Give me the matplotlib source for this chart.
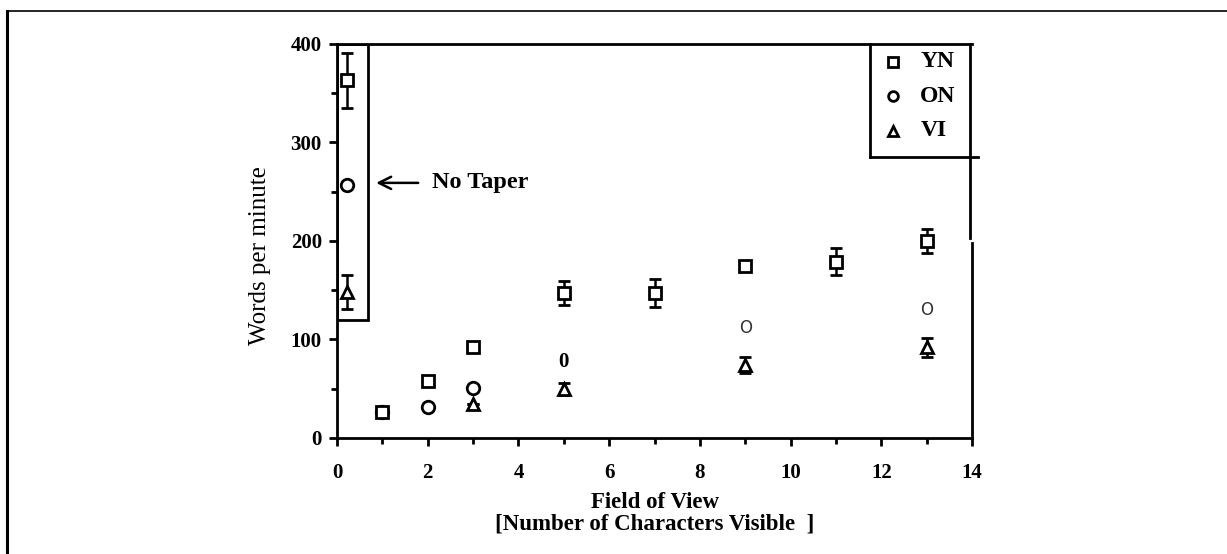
import numpy as np
import matplotlib.pyplot as plt
from matplotlib.patches import Rectangle
from matplotlib.lines import Line2D

# --- dane ---
YN_X = [0.22, 1, 2, 3, 5, 7, 9, 11, 13]
YN_Y = [363, 26, 58, 92, 147, 147, 175, 179, 200]
YN_ERR = [28, 0, 0, 0, 12, 14, 0, 14, 12]

ON_X = [0.22, 1, 2, 3, 5, 9, 13]
ON_Y = [257, 26, 31, 51, 77, 112, 130]
ON_STYL = ["kolo", "kolo", "kolo", "kolo", "zero", "litera", "litera"]

VI_X = [0.22, 3, 5, 9, 13]
VI_Y = [148, 35, 50, 74, 92]
VI_ERR = [17, 0, 6, 8, 10]

LEGENDA = ["YN", "ON", "VI"]
X_TICKS = [0, 2, 4, 6, 8, 10, 12, 14]
Y_TICKS = [0, 100, 200, 300, 400]

SERIF = "Liberation Serif"


def main():
    fig = plt.figure(figsize=(12.27, 5.54), dpi=100)
    ax = fig.add_axes([0.2747, 0.2094, 0.5175, 0.7112])

    # ramka calej grafiki (gora i lewa krawedz)
    fig.add_artist(Line2D([7 / 1227, 1], [1 - 11 / 554, 1 - 11 / 554], color="black", lw=1.2))
    fig.add_artist(Line2D([7 / 1227, 7 / 1227], [0, 1 - 11 / 554], color="black", lw=2.2))

    ax.set_xlim(0, 14)
    ax.set_ylim(0, 400)

    # YN - kwadraty z bledami
    ax.errorbar(YN_X, YN_Y, yerr=YN_ERR, fmt="s", mfc="white", mec="black", mew=2,
                ms=8, ecolor="black", elinewidth=1.8, capsize=4, capthick=1.8, zorder=3)

    # ON - rozne glify jak w oryginale
    for x, y, styl in zip(ON_X, ON_Y, ON_STYL):
        if styl == "kolo":
            ax.plot(x, y, "o", mfc="white", mec="black", mew=2, ms=9, zorder=3)
        elif styl == "zero":
            ax.text(x, y, "0", ha="center", va="center", fontsize=15,
                    fontweight="bold", family=SERIF, zorder=3)
        else:
            ax.text(x, y, "O", ha="center", va="center", fontsize=12,
                    family="DejaVu Sans", color="#333333", zorder=3)

    # VI - trojkaty
    ax.errorbar(VI_X, VI_Y, yerr=VI_ERR, fmt="^", mfc="white", mec="black", mew=2,
                ms=8, ecolor="black", elinewidth=1.8, capsize=4, capthick=1.8, zorder=3)

    # ramka "No Taper"
    ax.add_patch(Rectangle((0, 120), 0.68, 280, fill=False, ec="black", lw=2, zorder=2))
    ax.annotate("", xy=(0.8, 259), xytext=(1.85, 259),
                arrowprops=dict(arrowstyle="->", lw=1.8, color="black",
                                mutation_scale=22))
    ax.text(2.09, 259, "No Taper", ha="left", va="center", fontsize=17.5,
            fontweight="bold", family=SERIF)

    # legenda rysowana recznie
    ax.plot([11.75, 11.75], [285, 400], color="black", lw=2, clip_on=False)
    ax.plot([11.75, 14.14], [285, 285], color="black", lw=2, clip_on=False)
    markery = ["s", "o", "^"]
    for i, (etykieta, m) in enumerate(zip(LEGENDA, markery)):
        y = 382 - i * 35
        ax.plot(12.25, y, m, mfc="white", mec="black", mew=2, ms=7, clip_on=False)
        ax.text(12.86, y, etykieta, ha="left", va="center", fontsize=17,
                fontweight="bold", family=SERIF)

    # osie
    ax.spines["right"].set_visible(False)
    for s in ["left", "bottom", "top"]:
        ax.spines[s].set_linewidth(2)
    ax.plot([14, 14], [0, 198], color="black", lw=2, clip_on=False)
    ax.plot([13.96, 13.96], [203, 400], color="black", lw=2, clip_on=False)

    ax.set_xticks(X_TICKS)
    ax.set_xticks(np.arange(1, 14, 2), minor=True)
    ax.set_yticks(Y_TICKS)
    ax.set_yticks([50, 150, 250, 350], minor=True)
    ax.tick_params(which="both", direction="out", width=2, top=False, right=False)
    ax.tick_params(which="major", length=6)
    ax.tick_params(axis="x", which="major", pad=12)
    ax.tick_params(axis="y", which="major", pad=5)
    ax.tick_params(which="minor", length=4)
    for lab in ax.get_xticklabels() + ax.get_yticklabels():
        lab.set_fontfamily(SERIF)
        lab.set_fontweight("bold")
        lab.set_fontsize(15)

    ax.set_xlabel("Field of View\n[Number of Characters Visible  ]", fontsize=16.5,
                  fontweight="bold", family=SERIF, linespacing=1.05)
    ax.xaxis.set_label_coords(0.5, -0.137)
    ax.set_ylabel("Words per minute", fontsize=18, family=SERIF)
    ax.yaxis.set_label_coords(-0.104, 0.464)

    fig.savefig("out.png", dpi=100)


if __name__ == "__main__":
    main()
